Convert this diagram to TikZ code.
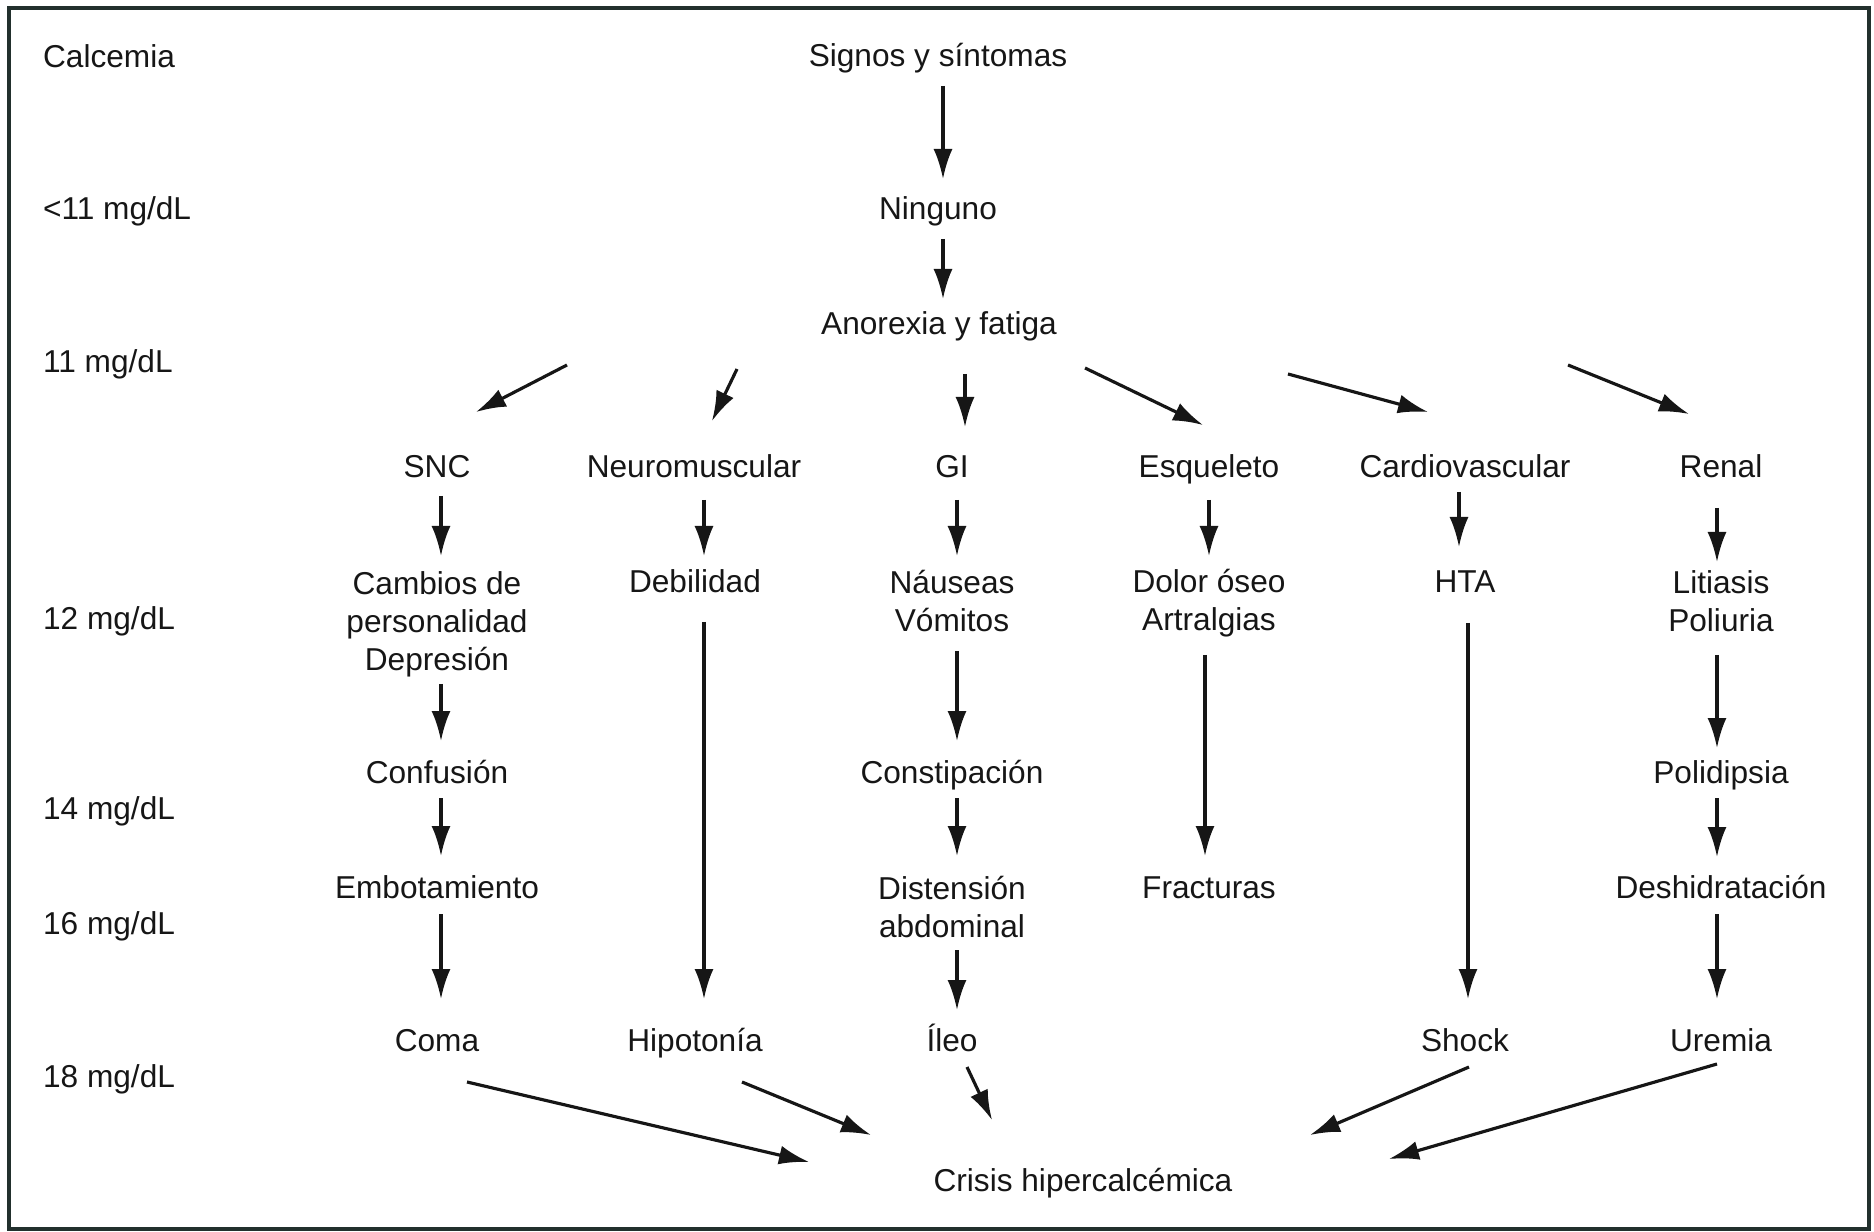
\documentclass[tikz,border=0pt]{standalone}
\usepackage{fontspec}
\setsansfont{Liberation Sans}
\usetikzlibrary{arrows.meta}
\definecolor{cink}{HTML}{161616}
\definecolor{cframe}{HTML}{22302D}
\tikzset{
  every picture/.style={font=\sffamily\fontsize{9}{10.8}\selectfont, line width=0.9pt},
  txt/.style={inner sep=1pt, text=cink},
  lbl/.style={txt, text height=2.4mm, text depth=0.4mm},
  lbl2/.style={txt, align=center},
  level/.style={lbl, anchor=west},
  arrow/.style={-{Latex[length=3mm, width=1.9mm]}, draw=cink},
}

\begin{document}
\begin{tikzpicture}[x=0.1mm, y=-0.1mm]
  \useasboundingbox (0,0) rectangle (1874,1232);
  \draw[cframe, line width=1.1pt] (9,8) rectangle (1869,1229);
  % calcemia scale
  \foreach \y/\t [count=\i] in {58/Calcemia, 210/{<11 mg/dL}, 363/{11 mg/dL}, 620/{12 mg/dL}, 810/{14 mg/dL}, 924/{16 mg/dL}, 1077/{18 mg/dL}}
    \node[level] (lvl\i) at (38,\y) {\t};
  % trunk
  \node[lbl] (signos) at (938,57) {Signos y síntomas};
  \node[lbl] (ninguno) at (938,210) {Ninguno};
  \node[lbl] (anorexia) at (939,325) {Anorexia y fatiga};
  % systems
  \foreach \n/\x/\t in {snc/437/SNC, neuro/694/Neuromuscular, gi/952/GI, esq/1209/Esqueleto, cardio/1465/Cardiovascular, renal/1721/Renal}
    \node[lbl] (\n) at (\x,468) {\t};
  % symptoms
  \node[lbl2] (cambios) at (437,624) {Cambios de\\personalidad\\Depresión};
  \node[lbl] (debil) at (695,583) {Debilidad};
  \node[lbl2] (nauseas) at (952,601) {Náuseas\\Vómitos};
  \node[lbl2] (dolor) at (1209,603) {Dolor óseo\\Artralgias};
  \node[lbl] (hta) at (1465,583) {HTA};
  \node[lbl2] (litiasis) at (1721,601) {Litiasis\\Poliuria};
  \node[lbl] (confusion) at (437,773) {Confusión};
  \node[lbl] (constip) at (952,773) {Constipación};
  \node[lbl] (polid) at (1721,773) {Polidipsia};
  \node[lbl] (embot) at (437,888) {Embotamiento};
  \node[lbl2] (distens) at (952,907) {Distensión\\abdominal};
  \node[lbl] (fract) at (1209,888) {Fracturas};
  \node[lbl] (deshid) at (1721,888) {Deshidratación};
  \foreach \n/\x/\t in {coma/437/Coma, hipot/695/Hipotonía, ileo/952/Íleo, shock/1465/Shock, uremia/1721/Uremia}
    \node[lbl] (\n) at (\x,1041) {\t};
  \node[lbl] (crisis) at (1083,1181) {Crisis hipercalcémica};
  % connectors
  \foreach \a/\sa/\b/\sb in {
      signos/{5,29}/ninguno/{5,-31}, ninguno/{5,29}/anorexia/{4,-26},
      anorexia/{-372,40}/snc/{39,-56}, anorexia/{-202,44}/neuro/{18,-47},
      anorexia/{26,49}/gi/{13,-41}, anorexia/{146,43}/esq/{-6,-43},
      anorexia/{349,49}/cardio/{-37,-56}, anorexia/{629,40}/renal/{-32,-54},
      snc/{4,28}/cambios/{4,-68}, neuro/{10,32}/debil/{9,-27},
      gi/{5,32}/nauseas/{5,-45}, esq/{0,32}/dolor/{0,-47},
      cardio/{-6,24}/hta/{-6,-36}, renal/{-4,40}/litiasis/{-4,-39},
      cambios/{4,60}/confusion/{4,-32}, confusion/{4,25}/embot/{4,-32},
      embot/{4,26}/coma/{4,-42}, debil/{9,39}/hipot/{9,-42},
      nauseas/{5,50}/constip/{5,-32}, constip/{5,25}/distens/{5,-51},
      distens/{5,43}/ileo/{5,-31}, dolor/{-4,52}/fract/{-4,-32},
      hta/{3,40}/shock/{3,-42}, litiasis/{-4,54}/polid/{-4,-25},
      polid/{-4,25}/deshid/{-4,-31}, deshid/{-4,26}/uremia/{-4,-42},
      coma/{30,41}/crisis/{-274,-19}, hipot/{47,41}/crisis/{-212,-46},
      ileo/{15,26}/crisis/{-91,-61}, shock/{4,26}/crisis/{227,-46},
      uremia/{-4,23}/crisis/{306,-22}}
    \draw[arrow] ([shift={(\sa)}]\a.center) -- ([shift={(\sb)}]\b.center);
\end{tikzpicture}
\end{document}
